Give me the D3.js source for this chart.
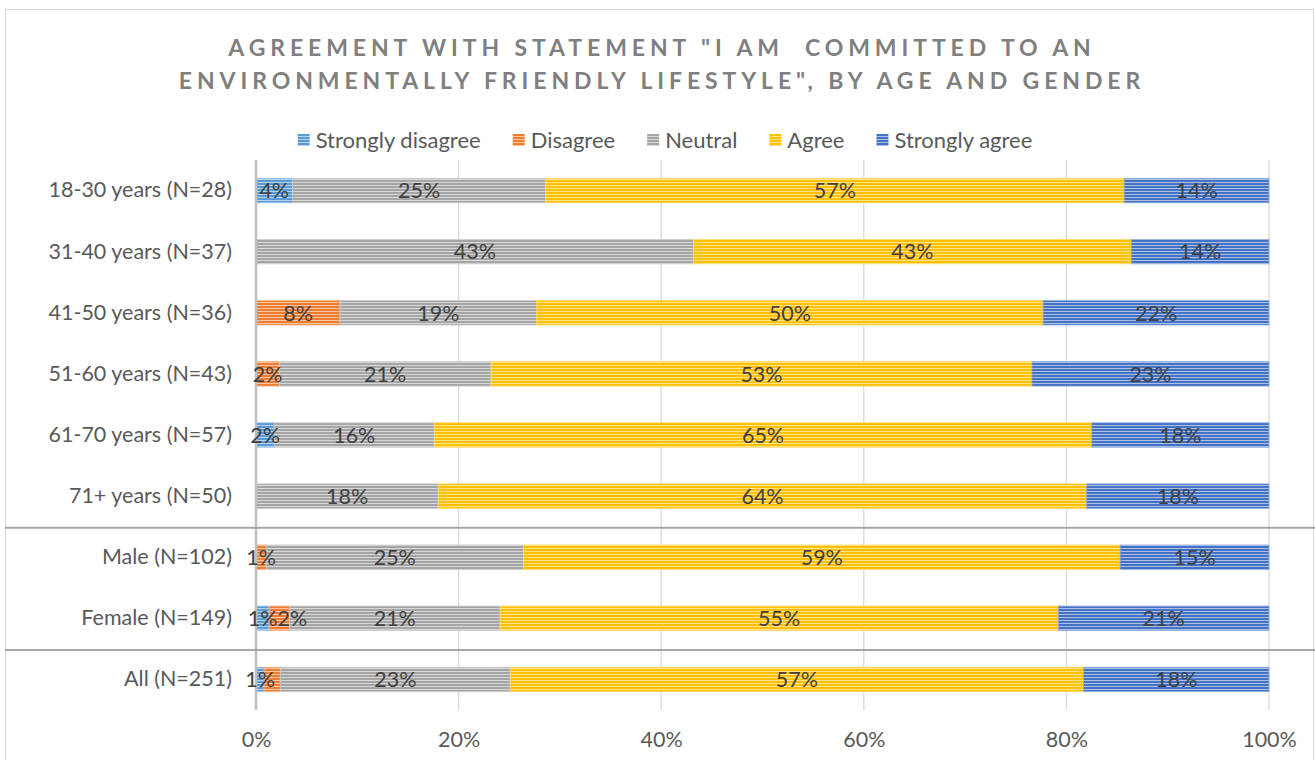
<!DOCTYPE html>
<html>
<head>
<meta charset="utf-8">
<script src="https://cdn.jsdelivr.net/npm/d3@7"></script>
<style>
  body { margin: 0; background: #fff; }
  svg { display: block; }
  text { font-family: Lato, "Open Sans", sans-serif; }
</style>
</head>
<body>
<svg id="chart" width="1315" height="760"></svg>
<script>
// Survey responses, share of respondents (%) per group
const categories = [
  "18-30 years (N=28)", "31-40 years (N=37)", "41-50 years (N=36)",
  "51-60 years (N=43)", "61-70 years (N=57)", "71+ years (N=50)",
  "Male (N=102)", "Female (N=149)", "All (N=251)"
];
const seriesNames = ["Strongly disagree", "Disagree", "Neutral", "Agree", "Strongly agree"];
const stronglyDisagree = [3.6, 0, 0, 0, 1.8, 0, 0, 1.3, 0.8];
const disagree         = [0, 0, 8.3, 2.3, 0, 0, 1.0, 2.0, 1.6];
const neutral          = [25.0, 43.2, 19.4, 20.9, 15.8, 18.0, 25.4, 20.8, 22.7];
const agree            = [57.1, 43.2, 50.0, 53.4, 64.9, 64.0, 58.9, 55.1, 56.6];
const stronglyAgree    = [14.3, 13.6, 22.3, 23.4, 17.5, 18.0, 14.7, 20.8, 18.3];
const tickValues = [0, 20, 40, 60, 80, 100];
// group separators are drawn below these rows
const groupEnds = ["71+ years (N=50)", "Female (N=149)"];

const seriesValues = [stronglyDisagree, disagree, neutral, agree, stronglyAgree];
const colors = ["#5B9BD5", "#ED7D31", "#A5A5A5", "#FFC000", "#4472C4"];

const rows = categories.map((c, i) => {
  const r = { category: c };
  seriesNames.forEach((s, k) => r[s] = seriesValues[k][i]);
  return r;
});

const svg = d3.select("#chart");
const width = 1315, height = 760;
const margin = { left: 256, right: 46, top: 160, bottom: 50 };
const labelSize = 21.5;

// striped fills
const defs = svg.append("defs");
colors.forEach((c, k) => {
  const p = defs.append("pattern")
    .attr("id", "stripe" + k)
    .attr("patternUnits", "userSpaceOnUse")
    .attr("width", 8).attr("height", 3);
  p.append("rect").attr("width", 8).attr("height", 3)
    .attr("fill", d3.interpolateRgb(c, "#ffffff")(0.55));
  p.append("rect").attr("width", 8).attr("height", 2).attr("fill", c);
});

// chart frame
svg.append("rect")
  .attr("x", 5.5).attr("y", 9.5)
  .attr("width", 1308).attr("height", 800)
  .attr("fill", "none").attr("stroke", "#d9d9d9").attr("stroke-width", 1.2);

// title
const title = svg.append("text")
  .attr("text-anchor", "middle")
  .attr("fill", "#7f7f7f")
  .attr("font-weight", "bold")
  .attr("font-size", 23)
  .attr("letter-spacing", 4.9)
  .style("white-space", "pre");
title.append("tspan").attr("x", 662).attr("y", 56)
  .text("AGREEMENT WITH STATEMENT \"I AM  COMMITTED TO AN");
title.append("tspan").attr("x", 662).attr("y", 89)
  .text("ENVIRONMENTALLY FRIENDLY LIFESTYLE\", BY AGE AND GENDER");

const x = d3.scaleLinear().domain([0, 100]).range([margin.left, width - margin.right]);
const y = d3.scaleBand().domain(categories)
  .range([margin.top, height - margin.bottom])
  .paddingInner(0.6).paddingOuter(0.3);

// gridlines
svg.append("g").selectAll("line")
  .data(tickValues.slice(1))
  .join("line")
  .attr("x1", d => x(d)).attr("x2", d => x(d))
  .attr("y1", margin.top).attr("y2", height - margin.bottom)
  .attr("stroke", "#d9d9d9").attr("stroke-width", 1.3);

// x axis labels
const xAxis = d3.axisBottom(x).tickValues(tickValues).tickFormat(d => d + "%").tickSize(0).tickPadding(0);
const gx = svg.append("g")
  .attr("transform", `translate(0, ${height - 21})`)
  .call(xAxis);
gx.select(".domain").remove();
gx.selectAll("text").attr("font-size", labelSize).attr("fill", "#595959")
  .attr("font-family", "Lato, 'Open Sans', sans-serif").attr("dy", "0.36em");

// stacked bars
const stack = d3.stack().keys(seriesNames);
const layers = stack(rows);
const barGroup = svg.append("g");
layers.forEach((layer, k) => {
  barGroup.append("g").selectAll("rect")
    .data(layer.filter(d => d[1] - d[0] > 0))
    .join("rect")
    .attr("x", d => x(d[0]))
    .attr("y", d => y(d.data.category))
    .attr("width", d => x(d[1]) - x(d[0]))
    .attr("height", y.bandwidth())
    .attr("fill", `url(#stripe${k})`)
    .attr("stroke", d3.interpolateRgb(colors[k], "#ffffff")(0.4))
    .attr("stroke-width", 0.8);
});

// 0% axis line
svg.append("line")
  .attr("x1", x(0)).attr("x2", x(0))
  .attr("y1", margin.top).attr("y2", height - margin.bottom)
  .attr("stroke", "#bfbfbf").attr("stroke-width", 2.5);

// group separators
groupEnds.forEach(c => {
  const i = categories.indexOf(c);
  const yy = (y(categories[i]) + y.bandwidth() + y(categories[i + 1])) / 2 + 1;
  svg.append("line")
    .attr("x1", 5).attr("x2", width)
    .attr("y1", yy).attr("y2", yy)
    .attr("stroke", "#a6a6a6").attr("stroke-width", 2);
});

// category labels
const yAxis = d3.axisLeft(y).tickSize(0).tickPadding(0);
const gy = svg.append("g").attr("transform", `translate(${232}, 0)`).call(yAxis);
gy.select(".domain").remove();
gy.selectAll("text").attr("font-size", labelSize).attr("fill", "#595959")
  .attr("font-family", "Lato, 'Open Sans', sans-serif");

// value labels, nudged right when they collide with the previous one
const labelGroup = svg.append("g");
categories.forEach((c, i) => {
  let prevRight = -Infinity;
  layers.forEach(layer => {
    const d = layer[i];
    const v = d[1] - d[0];
    if (v <= 0) return;
    const t = labelGroup.append("text")
      .attr("text-anchor", "middle")
      .attr("font-size", labelSize)
      .attr("fill", "#404040")
      .attr("y", y(c) + y.bandwidth() / 2)
      .attr("dy", "0.36em")
      .text(Math.round(v) + "%");
    const w = t.node().getComputedTextLength();
    let cx = (x(d[0]) + x(d[1])) / 2;
    const overlap = prevRight - (cx - w / 2);
    if (overlap > w / 2) { t.remove(); return; }
    if (overlap > 0) cx += overlap;
    t.attr("x", cx);
    prevRight = cx + w / 2;
  });
});

// legend
const legend = svg.append("g");
let lx = 0;
seriesNames.forEach((s, k) => {
  const g = legend.append("g").attr("transform", `translate(${lx},0)`);
  g.append("rect").attr("x", 0).attr("y", -6).attr("width", 12).attr("height", 12)
    .attr("fill", `url(#stripe${k})`);
  const t = g.append("text").attr("x", 18).attr("dy", "0.36em")
    .attr("font-size", 22).attr("fill", "#595959").text(s);
  lx += 18 + t.node().getComputedTextLength() + 32;
});
const legendWidth = lx - 32;
legend.attr("transform", `translate(${665 - legendWidth / 2}, 140)`);
</script>
</body>
</html>
